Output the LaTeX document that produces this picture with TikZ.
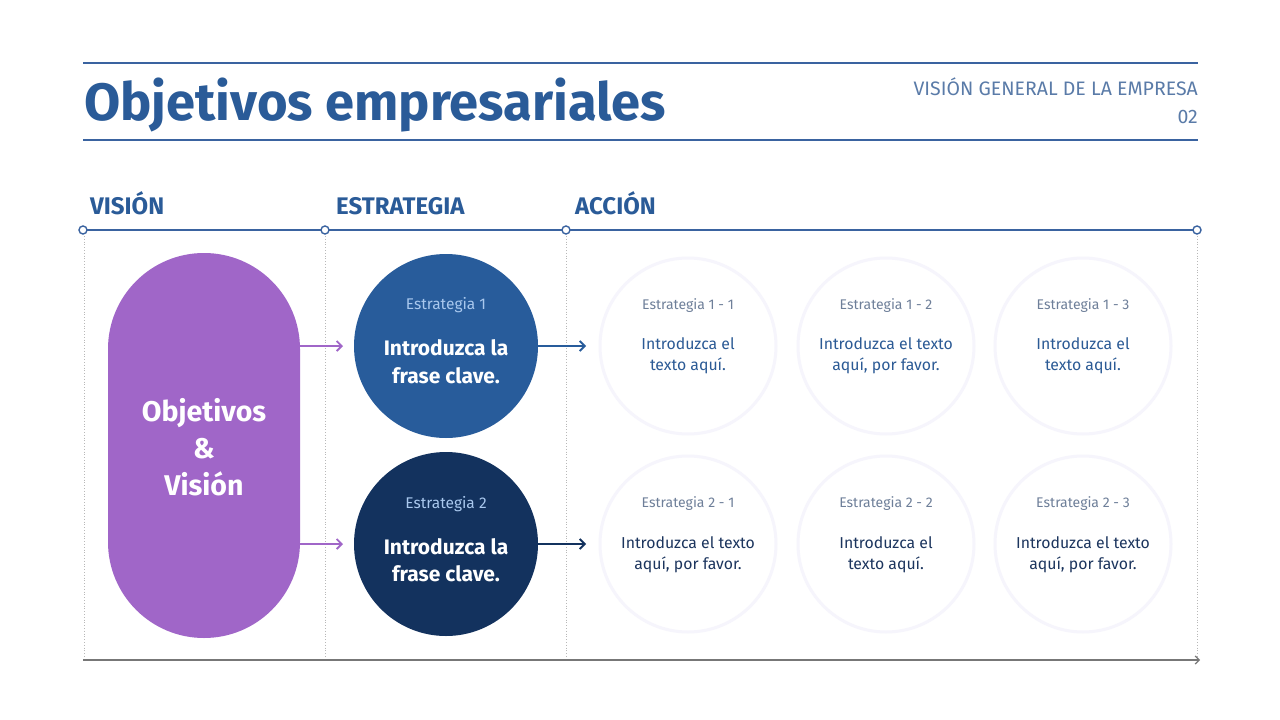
\documentclass[tikz,border=0pt]{standalone}
\usepackage{fontspec}
\setmainfont{Fira Sans}
\usetikzlibrary{arrows.meta}
\definecolor{titleblue}{HTML}{2A5B98}
\definecolor{headgray}{HTML}{5A7BA8}
\definecolor{lineblue}{HTML}{3A63A0}
\definecolor{purp}{HTML}{A066C8}
\definecolor{circA}{HTML}{285C9B}
\definecolor{circB}{HTML}{13325E}
\definecolor{lightlbl}{HTML}{A9C8EE}
\definecolor{faint}{HTML}{F6F5FC}
\definecolor{sublbl}{HTML}{6E7F99}
\definecolor{bodyA}{HTML}{2B5A95}
\definecolor{bodyB}{HTML}{1C355E}
\definecolor{dotgray}{HTML}{B8B8B8}
\definecolor{axisgray}{HTML}{777777}
\tikzset{
  sect/.style={font=\fontsize{24}{28}\selectfont\bfseries, text=titleblue, anchor=base west, inner sep=0pt},
  tick/.style={circle, draw=lineblue, line width=1.4pt, fill=white, minimum size=8pt, inner sep=0pt},
  vdot/.style={dotgray, line width=0.8pt, dotted},
  bigcirc/.style={circle, minimum size=184pt, inner sep=0pt},
  faintcirc/.style={circle, draw=faint, line width=3pt, fill=white, minimum size=176pt, inner sep=0pt},
  sublabel/.style={font=\fontsize{14}{16}\selectfont, text=sublbl, inner sep=0pt, anchor=base},
  body/.style={font=\fontsize{15.8}{21}\selectfont, align=center, inner sep=0pt},
  strong/.style={font=\fontsize{21}{27.5}\selectfont\bfseries, text=white, align=center, inner sep=0pt},
  arr/.style={line width=1.8pt, -{Straight Barb[length=5pt,width=10pt]}}
}
\begin{document}
\begin{tikzpicture}[x=1pt,y=-1pt]
\useasboundingbox (0,0) rectangle (1280,720);
\fill[white] (0,0) rectangle (1280,720);
% header
\coordinate (hl1) at (83,63); \coordinate (hr1) at (1198,63);
\coordinate (hl2) at (83,140); \coordinate (hr2) at (1198,140);
\draw[lineblue, line width=1.2pt] (hl1) -- (hr1);
\draw[lineblue, line width=1.2pt] (hl2) -- (hr2);
\node[anchor=base west, inner sep=0pt, font=\fontsize{52.5}{56}\selectfont\bfseries, text=titleblue] (title) at (84,120) {Objetivos empresariales};
\node[anchor=base east, inner sep=0pt, font=\fontsize{19.5}{22}\selectfont, text=headgray] (sub1) at (1198,95.5) {VISIÓN GENERAL DE LA EMPRESA};
\node[anchor=base east, inner sep=0pt, font=\fontsize{19.5}{22}\selectfont, text=headgray] (sub2) at (1198,123.5) {02};
% section labels
\node[sect] (svis) at (90,214) {VISIÓN};
\node[sect] (sest) at (336,214) {ESTRATEGIA};
\node[sect] (sacc) at (575,214) {ACCIÓN};
% dotted verticals
\foreach \x/\n in {84/a,325/b,566/c,1197/d}{
  \coordinate (vt\n) at (\x,236);
  \coordinate (vb\n) at (\x,658);
  \draw[vdot] (vt\n) -- (vb\n);
}
% timeline
\coordinate (tl) at (83,230); \coordinate (tr) at (1197,230);
\draw[lineblue, line width=1.4pt] (tl) -- (tr);
\node[tick] (t1) at (83,230) {};
\node[tick] (t2) at (325,230) {};
\node[tick] (t3) at (566,230) {};
\node[tick] (t4) at (1197,230) {};
% bottom axis
\coordinate (al) at (83,660); \coordinate (ar) at (1200,660);
\draw[axisgray, line width=1.2pt, -{Straight Barb[length=4pt,width=8pt]}] (al) -- (ar);
% purple stadium
\node[fill=purp, rounded corners=96pt, minimum width=192pt, minimum height=385pt, inner sep=0pt] (vision) at (204,445.5) {};
\node[font=\fontsize{28.5}{37}\selectfont\bfseries, text=white, align=center, inner sep=0pt] (vtext) at (204,447) {Objetivos\\\&\\Visión};
% strategy circles
\node[bigcirc, fill=circA] (s1) at (446,346) {};
\node[bigcirc, fill=circB] (s2) at (446,544) {};
\node[font=\fontsize{15.5}{18}\selectfont, text=lightlbl, inner sep=0pt, anchor=base] (s1l) at (446,309) {Estrategia 1};
\node[font=\fontsize{15.5}{18}\selectfont, text=lightlbl, inner sep=0pt, anchor=base] (s2l) at (446,508) {Estrategia 2};
\node[strong] (s1t) at (446,361.5) {Introduzca la\\frase clave.};
\node[strong] (s2t) at (446,560) {Introduzca la\\frase clave.};
% arrows
\coordinate (pa1) at (300,346); \coordinate (pb1) at (343,346);
\coordinate (pa2) at (300,544); \coordinate (pb2) at (343,544);
\draw[arr, purp] (pa1) -- (pb1);
\draw[arr, purp] (pa2) -- (pb2);
\coordinate (qb1) at (586,346); \coordinate (qb2) at (586,544);
\draw[arr, circA] (s1.east) -- (qb1);
\draw[arr, circB] (s2.east) -- (qb2);
% action circles
\foreach \x/\c in {688/1,886/2,1083/3}{
  \node[faintcirc] (a1\c) at (\x,346) {};
  \node[faintcirc] (a2\c) at (\x,544) {};
  \node[sublabel] (l1\c) at (\x,309) {Estrategia 1 - \c};
  \node[sublabel] (l2\c) at (\x,507) {Estrategia 2 - \c};
}
\node[body, text=bodyA] (b11) at (688,355.5) {Introduzca el\\texto aquí.};
\node[body, text=bodyA] (b12) at (886,355.5) {Introduzca el texto\\aquí, por favor.};
\node[body, text=bodyA] (b13) at (1083,355.5) {Introduzca el\\texto aquí.};
\node[body, text=bodyB] (b21) at (688,554.5) {Introduzca el texto\\aquí, por favor.};
\node[body, text=bodyB] (b22) at (886,554.5) {Introduzca el\\texto aquí.};
\node[body, text=bodyB] (b23) at (1083,554.5) {Introduzca el texto\\aquí, por favor.};
\end{tikzpicture}
\end{document}
